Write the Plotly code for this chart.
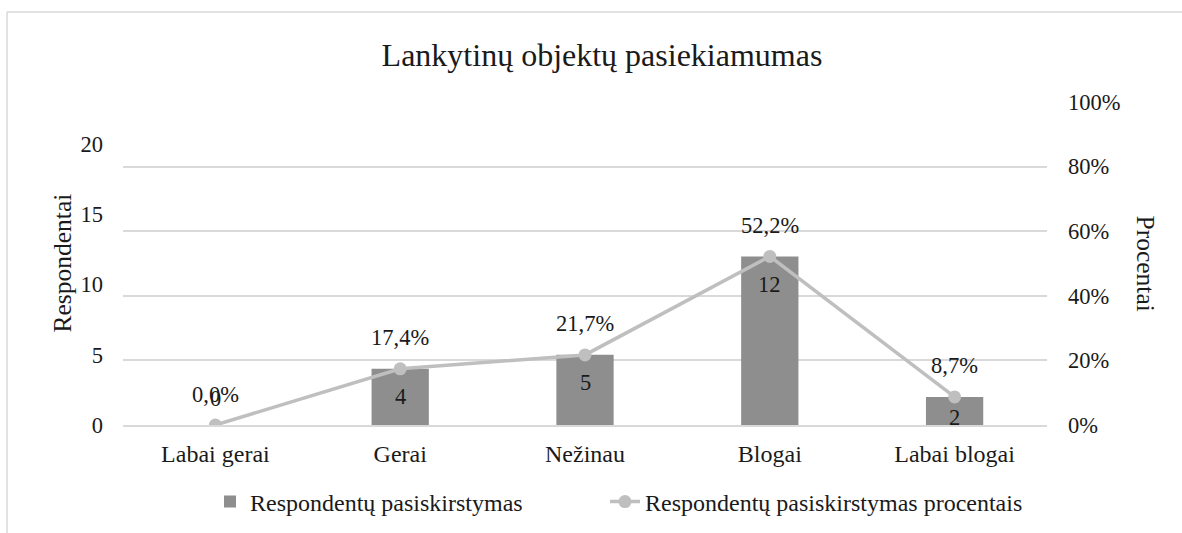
import plotly.graph_objects as go

categories = ["Labai gerai", "Gerai", "Nežinau", "Blogai", "Labai blogai"]
respondents = [0, 4, 5, 12, 2]
percents = [0.0, 17.4, 21.7, 52.2, 8.7]
left_ticks = [0, 5, 10, 15, 20]
right_ticks = [0, 0.2, 0.4, 0.6, 0.8, 1.0]

title_text = "Lankytinų objektų pasiekiamumas"
bar_name = "Respondentų pasiskirstymas"
line_name = "Respondentų pasiskirstymas procentais"

FONT = "Liberation Serif, Times New Roman, serif"
W, H = 1182, 533
L, R, T, B = 123, 135, 102, 108
pw, ph = W - L - R, H - T - B

def px_x(p):
    return (p - L) / pw

def px_y(p):
    return (H - B - p) / ph

bar_label_shift = [27, -28, -28, -28, -21]

fig = go.Figure()
fig.add_trace(go.Bar(
    x=categories, y=respondents, name=bar_name,
    marker=dict(color="#8e8e8e", line=dict(width=0)),
    width=0.31, yaxis="y", legend="legend",
))
fig.add_trace(go.Scatter(
    x=categories, y=[p / 100 for p in percents], name=line_name,
    mode="lines+markers",
    line=dict(color="#bfbfbf", width=3.5),
    marker=dict(color="#bfbfbf", size=13),
    yaxis="y2", legend="legend2",
))

annotations = []
for c, v, s in zip(categories, respondents, bar_label_shift):
    annotations.append(dict(x=c, y=v, xref="x", yref="y", text=str(v),
                            showarrow=False, yshift=s,
                            font=dict(family=FONT, size=22.5, color="#1a1a1a")))
for c, p in zip(categories, percents):
    annotations.append(dict(x=c, y=p / 100, xref="x", yref="y2",
                            text=f"{p:.1f}%".replace(".", ","),
                            showarrow=False, yshift=31,
                            font=dict(family=FONT, size=22.5, color="#1a1a1a")))
annotations.append(dict(x=px_x(62), y=0.5, xref="paper", yref="paper",
                        xanchor="center", yanchor="middle",
                        text="Respondentai", textangle=-90, showarrow=False,
                        font=dict(family=FONT, size=25.5, color="#1a1a1a")))
annotations.append(dict(x=px_x(1145), y=0.5, xref="paper", yref="paper",
                        xanchor="center", yanchor="middle",
                        text="Procentai", textangle=90, showarrow=False,
                        font=dict(family=FONT, size=25.5, color="#1a1a1a")))

shapes = [
    dict(type="line", xref="paper", yref="paper",
         x0=px_x(7), x1=px_x(W + 5), y0=px_y(12), y1=px_y(12),
         line=dict(color="#d9d9d9", width=1.5)),
    dict(type="line", xref="paper", yref="paper",
         x0=px_x(7), x1=px_x(7), y0=px_y(12), y1=px_y(H + 5),
         line=dict(color="#d9d9d9", width=1.5)),
]

legend_common = dict(orientation="h", xanchor="left", xref="container",
                     y=1 - 502 / H, yanchor="middle", yref="container",
                     font=dict(size=24), bgcolor="rgba(0,0,0,0)")

fig.update_layout(
    width=W, height=H,
    margin=dict(l=L, r=R, t=T, b=B),
    paper_bgcolor="white", plot_bgcolor="white",
    font=dict(family=FONT, size=22.5, color="#1a1a1a"),
    title=dict(text=title_text, x=602 / W, xanchor="center", xref="container",
               y=1 - 55 / H, yanchor="middle", yref="container",
               font=dict(family=FONT, size=32, color="#1a1a1a")),
    xaxis=dict(showgrid=False, showline=True, linecolor="#d9d9d9", linewidth=1.5,
               ticks="", tickfont=dict(size=24), ticklabelstandoff=6),
    yaxis=dict(range=[0, 23], tickvals=left_ticks, showgrid=False, zeroline=False,
               showline=False, ticks="", ticklabelstandoff=19,
               tickfont=dict(size=22.5)),
    yaxis2=dict(range=[0, 1], tickvals=right_ticks, tickformat=".0%",
                overlaying="y", side="right", showgrid=True,
                gridcolor="#d9d9d9", gridwidth=1.5, zeroline=False,
                showline=False, ticks="", ticklabelstandoff=20,
                tickfont=dict(size=22.5)),
    legend=dict(x=210 / W, **legend_common),
    legend2=dict(x=605 / W, **legend_common),
    separators=", ",
    annotations=annotations,
    shapes=shapes,
    showlegend=True,
)

fig.write_html("out.html", config={"displayModeBar": False},
               post_script="document.body.style.margin='0px';")
